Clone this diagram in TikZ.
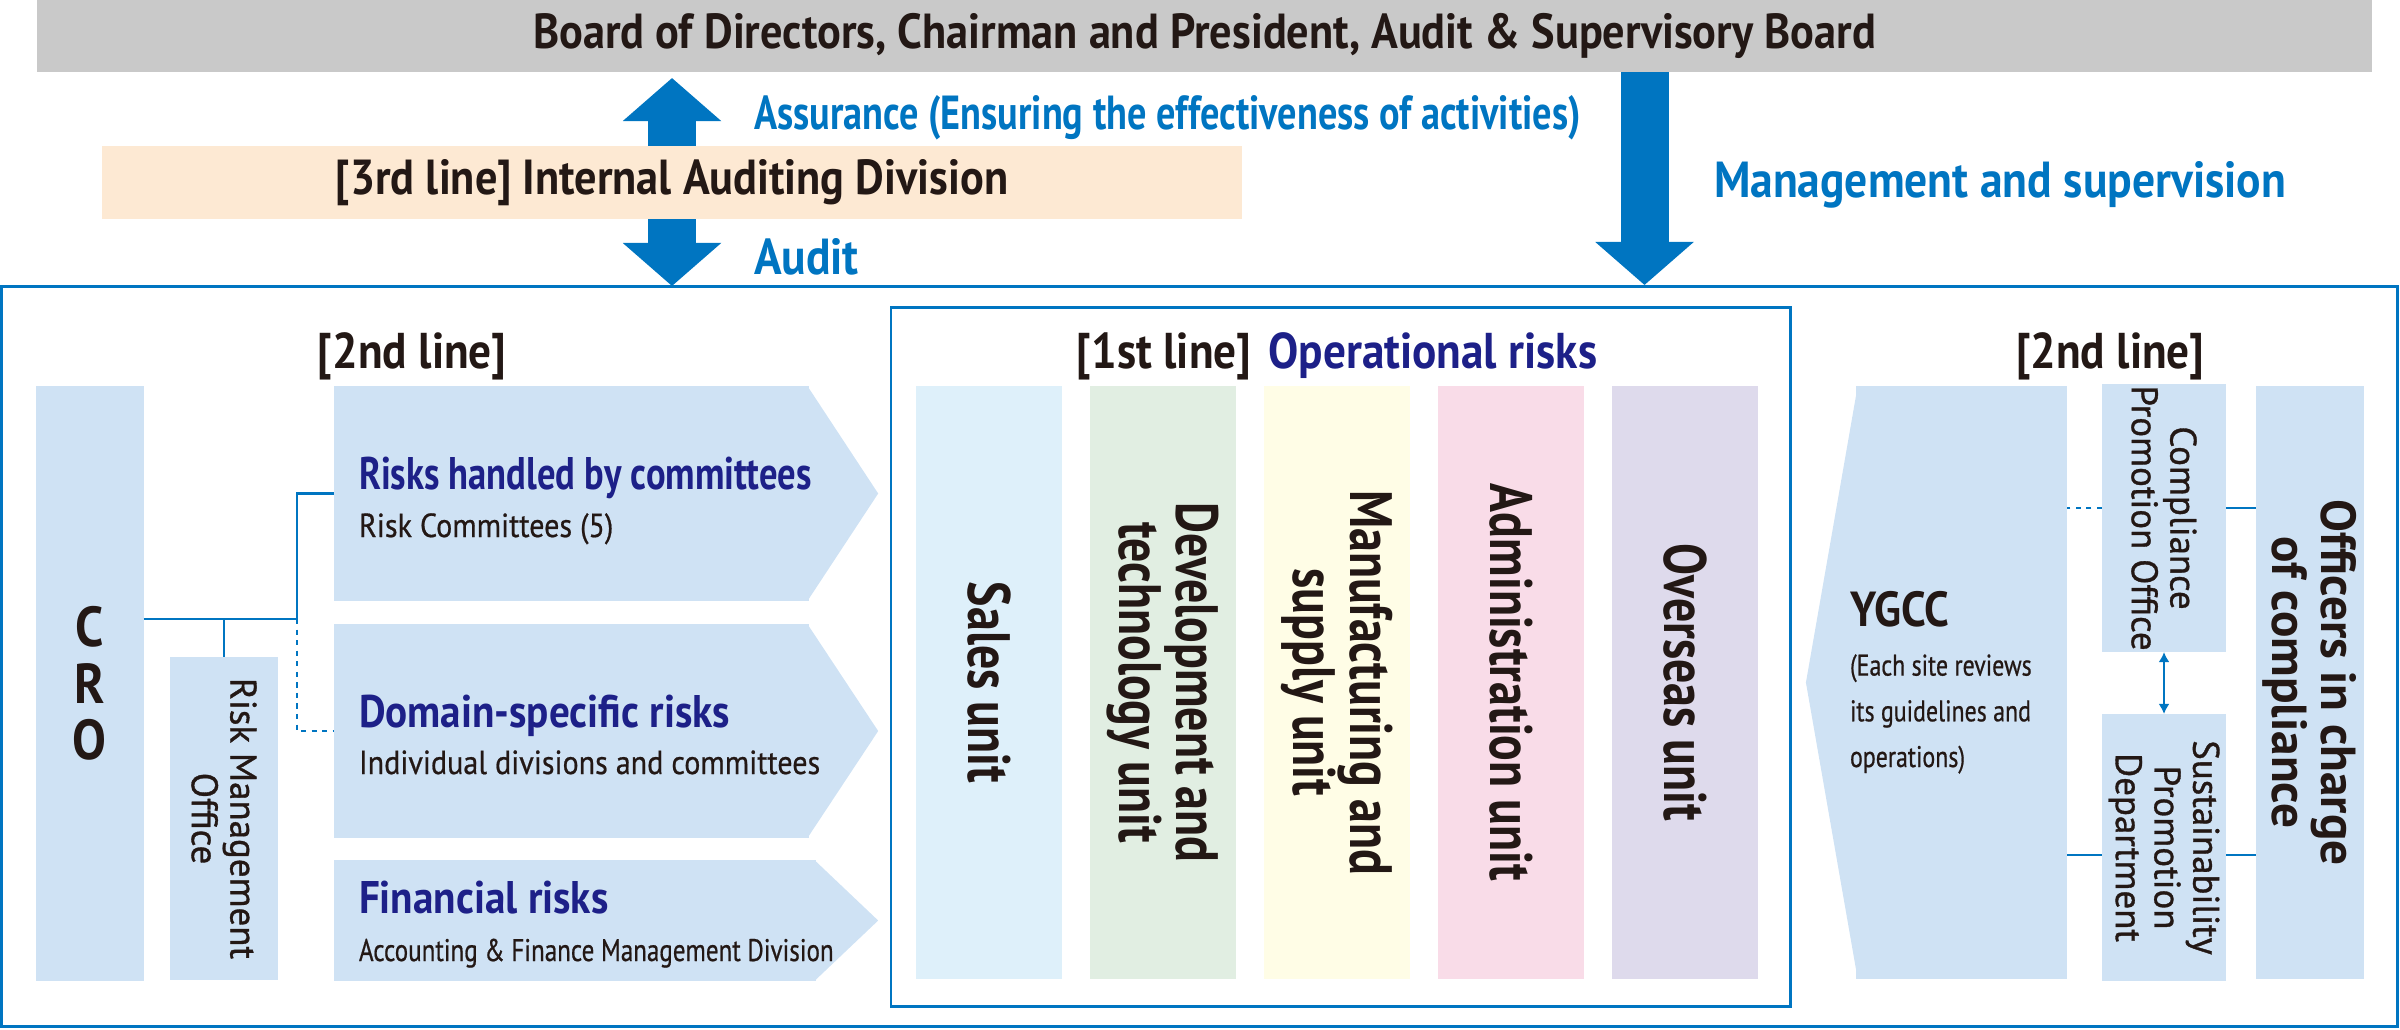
\documentclass[tikz,border=0pt]{standalone}
\usepackage{fontspec}
\setmainfont{PT Sans}[FakeStretch=0.9]
\newfontfamily\narrowfont{PT Sans}[FakeStretch=0.8]
\newfontfamily\widefont{PT Sans}
\newfontfamily\medfont{PT Sans}[FakeStretch=0.9, FakeBold=0.6]
\newfontfamily\mednarrow{PT Sans}[FakeStretch=0.8, FakeBold=0.6]
\newfontfamily\medwide{PT Sans}[FakeBold=0.9]
\usetikzlibrary{arrows.meta}

\definecolor{ybrand}{HTML}{0075C1}
\definecolor{navy}{HTML}{1D2088}
\definecolor{inkdark}{HTML}{231815}
\definecolor{boardgray}{HTML}{C9C9C9}
\definecolor{peach}{HTML}{FDE9D3}
\definecolor{paleblue}{HTML}{CFE2F4}
\definecolor{salesfill}{HTML}{DEF0FA}
\definecolor{devfill}{HTML}{E1EEE2}
\definecolor{mfgfill}{HTML}{FFFDE6}
\definecolor{adminfill}{HTML}{F9DCE8}
\definecolor{overfill}{HTML}{DEDAEC}

\begin{document}
\begin{tikzpicture}[x=0.01cm, y=-0.01cm,
  flat/.style={inner sep=0pt, outer sep=0pt},
  panel/.style={flat, fill=paleblue},
  headtxt/.style={text=inkdark, font=\fontsize{14}{16}\selectfont\bfseries},
  bluetxt/.style={flat, text=ybrand, font=\fontsize{14.4}{16}\selectfont\bfseries},
  linetxt/.style={text=inkdark, font=\fontsize{14.3}{17}\selectfont\bfseries},
  risktitle/.style={flat, text=navy, font=\fontsize{13}{15}\selectfont\bfseries},
  risksub/.style={flat, text=inkdark, font=\fontsize{9.5}{11}\medfont},
  unitcol/.style={flat, rotate=-90, align=center, minimum width=5.93cm, minimum height=1.46cm,
    text=inkdark, font=\fontsize{17}{16}\narrowfont\bfseries},
  sidetxt/.style={rotate=-90, align=center, text=inkdark, font=\fontsize{10.5}{11}\medwide},
  blockarrow/.style={draw=ybrand, line width=0.48cm, -{Triangle[length=0.43cm, width=0.96cm]}},
  link/.style={draw=ybrand, line width=0.6pt},
  dotlink/.style={link, dash pattern=on 1.5pt off 1.5pt}]
\useasboundingbox (0,0) rectangle (2400,1029);

% Top bodies
\node[flat, fill=boardgray, minimum width=23.33cm, minimum height=0.72cm, headtxt] (board) at (1204.5,36)
  {Board of Directors, Chairman and President, Audit \& Supervisory Board};
\node[flat, fill=peach, minimum width=11.4cm, minimum height=0.73cm, headtxt] (ia) at (672,182.5)
  {[3rd line] Internal Auditing Division};

% Block arrows
\coordinate (uptip) at (672,78);
\coordinate (downtip) at (672,286);
\coordinate (mgmttip) at (1644.5,285);
\draw[blockarrow] (ia.north) -- (uptip);
\draw[blockarrow] (ia.south) -- (downtip);
\draw[blockarrow] (board.south -| mgmttip) -- (mgmttip);
\node[bluetxt, font=\fontsize{13.6}{16}\narrowfont\bfseries, anchor=base west] (assure) at (754,129)
  {Assurance (Ensuring the effectiveness of activities)};
\node[bluetxt, anchor=base west] (audit) at (754,274) {Audit};
\node[bluetxt, anchor=base west] (mgmt) at (1714,197) {Management and supervision};

% Frames
\node[flat, draw=ybrand, line width=0.8pt, minimum width=23.95cm, minimum height=7.39cm] (riskframe) at (1199.5,656.5) {};
\node[flat, draw=ybrand, line width=0.8pt, minimum width=8.99cm, minimum height=6.98cm] (firstframe) at (1340.8,657) {};

% Left 2nd line
\node[linetxt, anchor=base] (lefthead) at (412,368) {[2nd line]};
\node[panel, minimum width=1.075cm, minimum height=5.95cm, align=center,
  text=inkdark, font=\fontsize{16}{16}\selectfont\bfseries] (cro) at (89.75,683.5) {C\\R\\O};
\node[panel, minimum width=1.08cm, minimum height=3.23cm] (rmo) at (224,818.5) {};
\node[sidetxt] (rmotxt) at (rmo) {Risk Management\\Office};

\node[panel, minimum width=4.75cm, minimum height=2.15cm] (riskcom) at (571.5,493.5) {};
\fill[paleblue] ([xshift=-0.5pt]riskcom.north east) -- ([xshift=0.69cm]riskcom.east) -- ([xshift=-0.5pt]riskcom.south east) -- cycle;
\node[panel, minimum width=4.75cm, minimum height=2.14cm] (riskdom) at (571.5,731) {};
\fill[paleblue] ([xshift=-0.5pt]riskdom.north east) -- ([xshift=0.69cm]riskdom.east) -- ([xshift=-0.5pt]riskdom.south east) -- cycle;
\node[panel, minimum width=4.82cm, minimum height=1.21cm] (riskfin) at (575,920.5) {};
\fill[paleblue] ([xshift=-0.5pt]riskfin.north east) -- ([xshift=0.62cm]riskfin.east) -- ([xshift=-0.5pt]riskfin.south east) -- cycle;

\node[risktitle, font=\fontsize{13}{15}\narrowfont\bfseries, anchor=base west] (comttl) at (359,489) {Risks handled by committees};
\node[risksub, anchor=base west] (comsub) at (359,537) {Risk Committees (5)};
\node[risktitle, anchor=base west] (domttl) at (359,727) {Domain-specific risks};
\node[risksub, anchor=base west] (domsub) at (359,774) {Individual divisions and committees};
\node[risktitle, anchor=base west] (finttl) at (359,913) {Financial risks};
\node[risksub, font=\fontsize{8.9}{11}\mednarrow, anchor=base west] (finsub) at (359,961) {Accounting \& Finance Management Division};

% CRO links
\coordinate (crohub) at (297,619);
\draw[link] (crohub -| cro.east) -- (crohub);
\draw[link] (rmo.north) -- (rmo.north |- crohub);
\draw[link] (crohub) |- (riskcom.west);
\draw[dotlink] (crohub) |- (riskdom.west);

% 1st line units
\node[linetxt, anchor=base] (firsthead) at (1337,368) {[1st line]\hspace{0.35em}{\color{navy}Operational risks}};
\node[unitcol, fill=salesfill] (sales) at (989,682.5) {Sales unit};
\node[unitcol, fill=devfill] (dev) at (1163,682.5) {Development and\\technology unit};
\node[unitcol, fill=mfgfill] (mfg) at (1337,682.5) {Manufacturing and\\supply unit};
\node[unitcol, fill=adminfill] (admin) at (1511,682.5) {Administration unit};
\node[unitcol, fill=overfill] (over) at (1685,682.5) {Overseas unit};

% Right 2nd line
\node[linetxt, anchor=base] (righthead) at (2110,368) {[2nd line]};
\node[panel, minimum width=2.11cm, minimum height=5.93cm] (ygcc) at (1961.5,682.5) {};
\fill[paleblue] ([xshift=0.5pt]ygcc.north west) -- ([xshift=-0.5cm]ygcc.west) -- ([xshift=0.5pt]ygcc.south west) -- cycle;
\node[flat, text=inkdark, font=\fontsize{14}{15}\selectfont\bfseries, anchor=base west] (ygccttl) at (1850,626) {YGCC};
\node[flat, text=inkdark, font=\fontsize{8.5}{13}\mednarrow, anchor=base west, align=left] (ygccsub) at (1850,767)
  {(Each site reviews\\its guidelines and\\operations)};

\node[panel, minimum width=1.24cm, minimum height=2.68cm] (cpo) at (2164,518) {};
\node[sidetxt] (cpotxt) at (cpo) {Compliance\\Promotion Office};
\node[panel, minimum width=1.24cm, minimum height=2.67cm] (spd) at (2164,847.5) {};
\node[sidetxt] (spdtxt) at (spd) {Sustainability\\Promotion\\Department};
\node[panel, minimum width=1.08cm, minimum height=5.93cm] (officer) at (2310,682.5) {};
\node[sidetxt, font=\fontsize{14}{14}\widefont\bfseries] (officertxt) at (officer) {Officers in charge\\of compliance};

% Compliance links
\draw[dotlink] ([yshift=0.1cm]cpo.west) -- ([yshift=0.1cm]cpo.west -| ygcc.east);
\draw[link] ([yshift=0.1cm]cpo.east) -- ([yshift=0.1cm]cpo.east -| officer.west);
\draw[link] ([yshift=-0.075cm]spd.west) -- ([yshift=-0.075cm]spd.west -| ygcc.east);
\draw[link] ([yshift=-0.075cm]spd.east) -- ([yshift=-0.075cm]spd.east -| officer.west);
\draw[link, {Latex[length=0.1cm, width=0.11cm]}-{Latex[length=0.1cm, width=0.11cm]}] (cpo.south) -- (spd.north);

\end{tikzpicture}
\end{document}
